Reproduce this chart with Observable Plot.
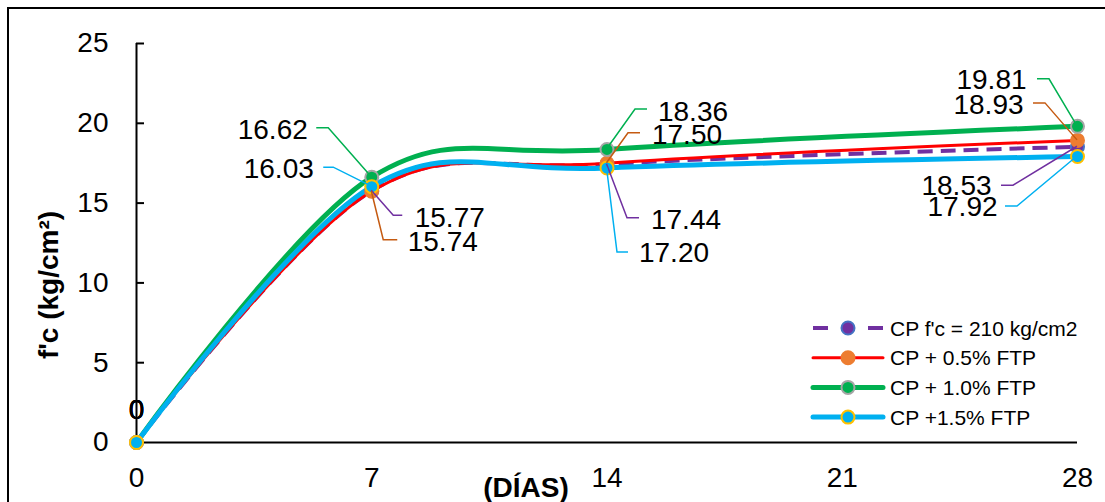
<!DOCTYPE html>
<html>
<head>
<meta charset="utf-8">
<script src="https://cdn.jsdelivr.net/npm/d3@7"></script>
<script src="https://cdn.jsdelivr.net/npm/@observablehq/plot@0.6"></script>
<style>
  html, body { margin: 0; padding: 0; background: #fff; overflow: hidden; }
  #wrap { position: relative; width: 1105px; height: 502px; overflow: hidden; background: #fff; }
  #wrap svg { position: absolute; left: 0; top: 0; }
  #border { position: absolute; left: 7px; top: 7px; width: 1300px; height: 700px;
            border: 2px solid #000; box-sizing: border-box; pointer-events: none; }
</style>
</head>
<body>
<div id="wrap"><div id="border"></div></div>
<script>
// Compressive strength f'c (kg/cm²) by curing age (days)
const days = [0, 7, 14, 28];
const seriesNames = ["CP f'c = 210 kg/cm2", "CP + 0.5% FTP", "CP + 1.0% FTP", "CP +1.5% FTP"];
const cp210 = [0, 15.77, 17.44, 18.53];
const ftp05 = [0, 15.74, 17.50, 18.93];
const ftp10 = [0, 16.62, 18.36, 19.81];
const ftp15 = [0, 16.03, 17.20, 17.92];
const xTicks = [0, 7, 14, 21, 28];
const yTicks = [0, 5, 10, 15, 20, 25];
const xTitle = "(DÍAS)";
const yTitle = "f'c (kg/cm²)";

const seriesValues = [cp210, ftp05, ftp10, ftp15];

// Visual style of each series: line, marker fill / ring, leader colour
const styles = [
  {line: "#7030A0", width: 4, dash: "15,8", fill: "#7030A0", ring: "#4472C4", leader: "#7030A0"},
  {line: "#FF0000", width: 3, dash: null,   fill: "#ED7D31", ring: "#ED7D31", leader: "#C55A11"},
  {line: "#00B050", width: 5, dash: null,   fill: "#00B050", ring: "#A5A5A5", leader: "#00B050"},
  {line: "#00B0F0", width: 5, dash: null,   fill: "#00B0F0", ring: "#FFC000", leader: "#00B0F0"}
];

// Pixel placement of the value labels (for days 7, 14, 28) and their elbow leaders:
// label centre = point + (dx, dy); leader = point -> (ex, ey) -> (hx, ey)
const labelPlacement = [
  [{dx: 78, dy: 27, ex: 22, ey: 25, hx: 31},    {dx: 79, dy: 56, ex: 20.5, ey: 54, hx: 32.5},   {dx: -121, dy: 39, ex: -64, ey: 39, hx: -76}],
  [{dx: 71, dy: 51, ex: 12, ey: 49, hx: 26},    {dx: 80, dy: -28, ex: 21.5, ey: -30, hx: 33.5}, {dx: -89, dy: -35, ex: -32, ey: -37, hx: -44}],
  [{dx: -99, dy: -47, ex: -43, ey: -49, hx: -55}, {dx: 86, dy: -37, ex: 28.5, ey: -40, hx: 40.5}, {dx: -86, dy: -46, ex: -28, ey: -47, hx: -40}],
  [{dx: -93, dy: -18, ex: -38, ey: -19, hx: -48}, {dx: 67, dy: 85, ex: 10.5, ey: 84.5, hx: 21.5}, {dx: -115, dy: 51, ex: -60, ey: 50, hx: -72}]
];

const FONT = "'Liberation Sans', Arial, Helvetica, sans-serif";

// Long-form table built from the arrays above
const rows = seriesValues.flatMap((vals, s) =>
  days.map((d, i) => ({series: s, name: seriesNames[s], day: d, value: vals[i], idx: i})));

const fmt = v => v === 0 ? "0" : v.toFixed(2);

const lineMarks = styles.map((st, s) =>
  Plot.line(rows.filter(r => r.series === s), {
    x: "day", y: "value", curve: "cardinal",
    stroke: st.line, strokeWidth: st.width, strokeDasharray: st.dash,
    strokeLinecap: st.dash ? "butt" : "round"
  }));

const dotMarks = styles.map((st, s) =>
  Plot.dot(rows.filter(r => r.series === s), {
    x: "day", y: "value", r: 6.5, fill: st.fill, stroke: st.ring, strokeWidth: 2
  }));

const labelMarks = rows.map(r => {
  const p = r.idx === 0 ? {dx: 0, dy: -32} : labelPlacement[r.series][r.idx - 1];
  return Plot.text([r], {
    x: "day", y: "value", text: d => fmt(d.value),
    dx: p.dx, dy: p.dy, fontSize: 28, fill: "#000",
    textAnchor: "middle", lineAnchor: "middle"
  });
});

const plot = Plot.plot({
  width: 1105,
  height: 502,
  marginLeft: 136,
  marginRight: 28,
  marginTop: 43,
  marginBottom: 60,
  style: {fontFamily: FONT, fontSize: "28px", color: "#000", background: "transparent", overflow: "visible"},
  x: {domain: [0, 28], ticks: xTicks},
  y: {domain: [0, 25], ticks: yTicks},
  marks: [
    // inward-pointing y ticks
    Plot.axisY({ticks: yTicks, tickSize: 8, dx: 8, strokeWidth: 2, fill: "none", label: null}),
    Plot.axisY({ticks: yTicks, tickSize: 0, tickPadding: 28, fontSize: 28, label: null}),
    Plot.axisX({ticks: xTicks, tickSize: 0, tickPadding: 25, fontSize: 28, label: null}),
    Plot.ruleX([0], {stroke: "#000", strokeWidth: 2}),
    Plot.ruleY([0], {stroke: "#000", strokeWidth: 2}),
    Plot.text([yTitle], {frameAnchor: "left", dx: -87, dy: 42, rotate: -90,
      fontSize: 28, fontWeight: "bold", fill: "#000", textAnchor: "middle", lineAnchor: "middle"}),
    Plot.text([xTitle], {frameAnchor: "bottom", dx: -81, dy: 46,
      fontSize: 28, fontWeight: "bold", fill: "#000", textAnchor: "middle", lineAnchor: "middle"}),
    ...lineMarks,
    ...dotMarks,
    ...labelMarks
  ]
});

document.getElementById("wrap").insertBefore(plot, document.getElementById("border"));

// Elbow leader lines from each point to its value label
const sx = plot.scale("x"), sy = plot.scale("y");
const svg = d3.select(plot);
const leaders = svg.append("g").attr("fill", "none").attr("stroke-width", 1.5);
rows.filter(r => r.idx > 0).forEach(r => {
  const p = labelPlacement[r.series][r.idx - 1];
  const px = sx.apply(r.day), py = sy.apply(r.value);
  leaders.append("path")
    .attr("stroke", styles[r.series].leader)
    .attr("d", `M${px},${py}L${px + p.ex},${py + p.ey}L${px + p.hx},${py + p.ey}`);
});

// Legend (lower right, inside the plotting area)
const legend = svg.append("g").attr("transform", "translate(813,328)")
  .attr("text-anchor", "start")
  .style("font-family", FONT).style("font-size", "21px");
styles.forEach((st, s) => {
  const g = legend.append("g").attr("transform", `translate(0,${s * 29.7})`);
  if (st.dash) {
    g.append("line").attr("x1", 0).attr("x2", 70).attr("stroke", st.line)
      .attr("stroke-width", st.width).attr("stroke-dasharray", "15,40");
  } else {
    g.append("line").attr("x1", 0).attr("x2", 70).attr("stroke", st.line)
      .attr("stroke-width", st.width).attr("stroke-linecap", "round");
  }
  g.append("circle").attr("cx", 35).attr("r", 6.5).attr("fill", st.fill)
    .attr("stroke", st.ring).attr("stroke-width", 2);
  g.append("text").attr("x", 77).attr("dy", "0.36em").attr("text-anchor", "start")
    .attr("fill", "#000").text(seriesNames[s]);
});
</script>
</body>
</html>
